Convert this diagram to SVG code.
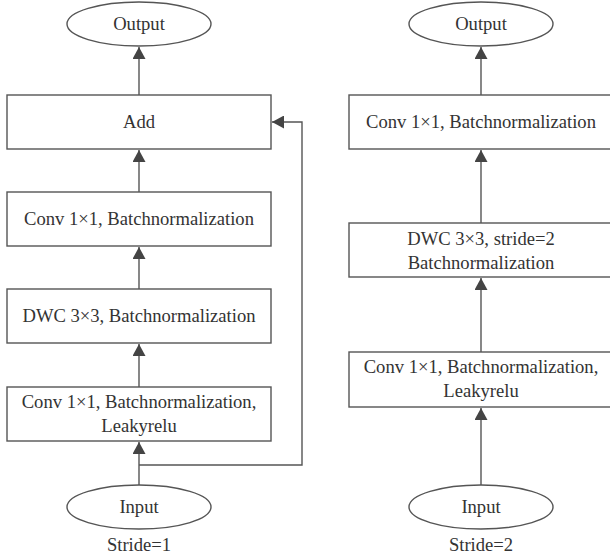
<svg xmlns="http://www.w3.org/2000/svg" width="610" height="559" viewBox="0 0 610 559">
<defs>
<style>
.box{fill:#fff;stroke:#555;stroke-width:1.4}
.t{font-family:"Liberation Serif","Times New Roman",serif;font-size:18.6px;fill:#333;text-anchor:middle}
.c{fill:none;stroke:#555;stroke-width:1.4}
</style>
<marker id="ah" viewBox="0 0 12 13" refX="12" refY="6.5" markerWidth="12" markerHeight="13" markerUnits="userSpaceOnUse" orient="auto">
<path d="M0,0 L12,6.5 L0,13 Z" fill="#444"/>
</marker>
</defs>
<rect width="610" height="559" fill="#fff"/>
<g id="connectors">
<line class="c" x1="139" y1="95" x2="139" y2="47" marker-end="url(#ah)"/>
<line class="c" x1="139" y1="192" x2="139" y2="150" marker-end="url(#ah)"/>
<line class="c" x1="139" y1="289" x2="139" y2="247" marker-end="url(#ah)"/>
<line class="c" x1="139" y1="387" x2="139" y2="344" marker-end="url(#ah)"/>
<line class="c" x1="139" y1="485" x2="139" y2="442" marker-end="url(#ah)"/>
<polyline class="c" points="139,465 302,465 302,122 272,122" marker-end="url(#ah)"/>
<line class="c" x1="481" y1="95" x2="481" y2="47" marker-end="url(#ah)"/>
<line class="c" x1="481" y1="223" x2="481" y2="150" marker-end="url(#ah)"/>
<line class="c" x1="481" y1="352" x2="481" y2="278" marker-end="url(#ah)"/>
<line class="c" x1="481" y1="485" x2="481" y2="408" marker-end="url(#ah)"/>
</g>
<g id="l-output"><ellipse class="box" cx="139" cy="24" rx="72" ry="22"/><text class="t" x="139" y="30">Output</text></g>
<g id="l-add"><rect class="box" x="7" y="95" width="264" height="54"/><text class="t" x="139" y="128">Add</text></g>
<g id="l-conv"><rect class="box" x="7" y="192" width="264" height="54"/><text class="t" x="139" y="225">Conv 1×1, Batchnormalization</text></g>
<g id="l-dwc"><rect class="box" x="7" y="289" width="264" height="54"/><text class="t" x="139" y="322">DWC 3×3, Batchnormalization</text></g>
<g id="l-convleaky"><rect class="box" x="7" y="387" width="264" height="54"/><text class="t" x="139" y="408">Conv 1×1, Batchnormalization,</text><text class="t" x="139" y="432">Leakyrelu</text></g>
<g id="l-input"><ellipse class="box" cx="139" cy="507" rx="72" ry="22"/><text class="t" x="139" y="513">Input</text></g>
<text class="t" x="139" y="551">Stride=1</text>
<g id="r-output"><ellipse class="box" cx="481" cy="24" rx="72" ry="22"/><text class="t" x="481" y="30">Output</text></g>
<g id="r-conv"><rect class="box" x="349" y="95" width="264" height="54"/><text class="t" x="481" y="128">Conv 1×1, Batchnormalization</text></g>
<g id="r-dwc"><rect class="box" x="349" y="223" width="264" height="54"/><text class="t" x="481" y="245">DWC 3×3, stride=2</text><text class="t" x="481" y="269">Batchnormalization</text></g>
<g id="r-convleaky"><rect class="box" x="349" y="352" width="264" height="55"/><text class="t" x="481" y="373">Conv 1×1, Batchnormalization,</text><text class="t" x="481" y="397">Leakyrelu</text></g>
<g id="r-input"><ellipse class="box" cx="481" cy="507" rx="72" ry="22"/><text class="t" x="481" y="513">Input</text></g>
<text class="t" x="481" y="551">Stride=2</text>
</svg>
